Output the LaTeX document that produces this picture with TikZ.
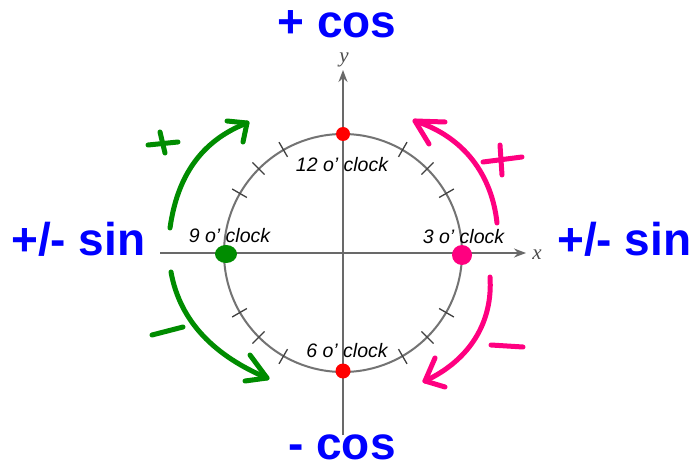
\documentclass[tikz,border=0pt]{standalone}
\usepackage{fontspec}
\setmainfont{Liberation Sans}
\newfontfamily\axisfont{Liberation Serif}
\usetikzlibrary{arrows.meta,shapes.geometric}
\definecolor{hgreen}{RGB}{0,140,0}
\definecolor{hpink}{RGB}{255,0,128}
\definecolor{hblue}{RGB}{0,0,255}
\definecolor{axisgray}{RGB}{105,105,105}
\definecolor{circgray}{RGB}{115,115,115}
\begin{document}
\begin{tikzpicture}[x=1pt,y=-1pt,
  big/.style={font=\fontsize{46}{50}\selectfont\bfseries, text=hblue, inner sep=0pt},
  clock/.style={font=\fontsize{19.5}{22}\selectfont\itshape, inner sep=0pt},
  axlabel/.style={font=\fontsize{21}{23}\selectfont\axisfont\itshape, text=black!70, inner sep=0pt},
  stroke/.style={line width=5pt, line cap=round, line join=round},
  axisline/.style={axisgray, line width=1.8pt, -{Stealth[length=12pt,width=9pt]}},
  tickmark/.style={black!75, line width=1.3pt},
  dot/.style={circle, inner sep=0pt}]
\useasboundingbox (0,0) rectangle (693,470);
\fill[white] (0,0) rectangle (693,470);

% axes
\coordinate (xs) at (160,253); \coordinate (xe) at (526,253);
\coordinate (ys) at (343,435); \coordinate (ye) at (343,70);
\draw[axisline] (xs) -- (xe);
\draw[axisline] (ys) -- (ye);
\node[axlabel] (xl) at (537,255) {x};
\node[axlabel] (yl) at (344,60) {y};

% unit circle
\node[circle, draw=circgray, line width=2pt, minimum size=238pt, inner sep=0pt] (circ) at (343,253) {};
\foreach \a in {30,45,60,120,135,150,210,225,240,300,315,330}
  \draw[tickmark] ([shift={(\a:111pt)}]circ.center) -- ([shift={(\a:128pt)}]circ.center);

% clock labels
\node[clock, anchor=base] (l12) at (342,172) {12 o' clock};
\node[clock, anchor=base] (l6) at (347,357) {6 o' clock};
\node[clock, anchor=base] (l9) at (229.5,243) {9 o' clock};
\node[clock, anchor=base] (l3) at (463.5,244) {3 o' clock};

% dots
\node[dot, fill=red, minimum size=14pt] (d12) at (343,134) {};
\node[dot, fill=red, minimum size=15pt] (d6) at (343,371) {};
\node[ellipse, fill=hgreen, inner sep=0pt, minimum width=22pt, minimum height=18pt] (d9) at (226,254) {};
\node[dot, fill=hpink, minimum size=20pt] (d3) at (462,255) {};

% big labels
\node[big, anchor=base] (pcos) at (337,38) {+ cos};
\node[big, anchor=base] (mcos) at (342,459) {- cos};
\node[big, anchor=base west] (lsin) at (11,256) {+/- sin};
\node[big, anchor=base west] (rsin) at (557,256) {+/- sin};

% green upper arrow
\coordinate (gu0) at (170,228); \coordinate (gut) at (247,123);
\coordinate (gub1) at (227,121); \coordinate (gub2) at (243,142);
\draw[stroke, hgreen] (gu0) .. controls (177,178) and (200,141) .. (gut);
\draw[stroke, hgreen] (gub1) -- (gut) -- (gub2);
% green plus
\coordinate (gp1) at (148,145); \coordinate (gp2) at (178,142);
\coordinate (gp3) at (160,132); \coordinate (gp4) at (165,153);
\draw[stroke, hgreen] (gp1) -- (gp2);
\draw[stroke, hgreen] (gp3) -- (gp4);

% pink upper arrow
\coordinate (pu0) at (497,223); \coordinate (put) at (415,121);
\coordinate (pub1) at (445,122); \coordinate (pub2) at (429,144);
\draw[stroke, hpink] (pu0) .. controls (492,176) and (465,137) .. (put);
\draw[stroke, hpink] (pub1) -- (put) -- (pub2);
% pink plus
\coordinate (pp1) at (483,162); \coordinate (pp2) at (522,157);
\coordinate (pp3) at (500,145); \coordinate (pp4) at (502,175);
\draw[stroke, hpink] (pp1) -- (pp2);
\draw[stroke, hpink] (pp3) -- (pp4);

% green lower arrow
\coordinate (gl0) at (171,272); \coordinate (glt) at (267,378);
\coordinate (glb1) at (250,355); \coordinate (glb2) at (245,381);
\draw[stroke, hgreen] (gl0) .. controls (180,322) and (215,356) .. (glt);
\draw[stroke, hgreen] (glb1) -- (glt) -- (glb2);
% green minus
\coordinate (gm1) at (152,335); \coordinate (gm2) at (183,327);
\draw[stroke, hgreen] (gm1) -- (gm2);

% pink lower arrow
\coordinate (pl0) at (490,277); \coordinate (plt) at (425,381);
\coordinate (plb1) at (435,358); \coordinate (plb2) at (445,387);
\draw[stroke, hpink] (pl0) .. controls (493,322) and (470,360) .. (plt);
\draw[stroke, hpink] (plb1) -- (plt) -- (plb2);
% pink minus
\coordinate (pm1) at (491,345); \coordinate (pm2) at (523,347);
\draw[stroke, hpink] (pm1) -- (pm2);
\end{tikzpicture}
\end{document}
